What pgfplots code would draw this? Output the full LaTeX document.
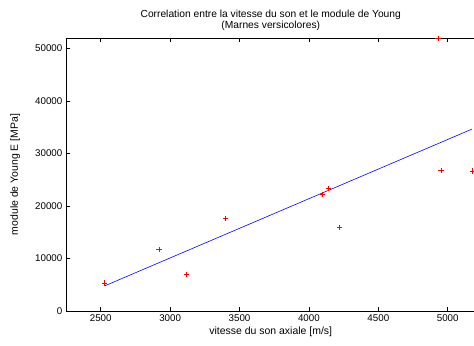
\documentclass[border=0pt]{standalone}
\usepackage{pgfplots}
\pgfplotsset{compat=1.18}
\usepackage{fontspec}
\setmainfont{Liberation Sans}
\begin{document}
\fontsize{10.5}{12}\selectfont
\begin{tikzpicture}
\begin{axis}[
  at={(0,0)}, anchor=south west,
  scale only axis, width=409.5bp, height=273bp,
  xmin=2250, xmax=5200, ymin=0, ymax=52000,
  axis x line*=box, axis y line*=left,
  xtick={2500,3000,...,5000}, ytick={0,10000,...,50000},
  tick align=inside, major tick length=4bp,
  xtick pos=both,
  tick style={black, line width=0.5pt},
  axis line style={line width=0.7pt},
  /pgf/number format/assume math mode=true,
  /pgf/number format/set thousands separator={},
  scaled y ticks=false, scaled x ticks=false,
  tick label style={font=\fontsize{9.8}{11}\selectfont},
  xlabel={vitesse du son axiale [m/s]},
  ylabel={module de Young E [MPa]},
  xlabel style={font=\fontsize{10.5}{12}\selectfont, yshift=2bp},
  ylabel style={font=\fontsize{10.5}{12}\selectfont, yshift=8bp},
  title={Correlation entre la vitesse du son et le module de Young\\(Marnes versicolores)},
  title style={align=center, font=\fontsize{10.3}{11}\selectfont, yshift=-2bp},
  clip=false,
]
\addplot[only marks, mark=+, red, mark size=2.6pt, line width=0.85pt] coordinates {
(2529,5320) (2920,11650) (3120,6900) (3398,17550) (4099,22240) (4143,23380)
(4222,15970) (4930,51900) (4952,26750) (5178,26670)
};
\addplot[blue, line width=0.6pt] coordinates {(2531,4810) (5175,34650)};
\end{axis}
\pgfresetboundingbox
\useasboundingbox (-66bp,-35bp) rectangle (408bp,311bp);
\end{tikzpicture}
\end{document}
